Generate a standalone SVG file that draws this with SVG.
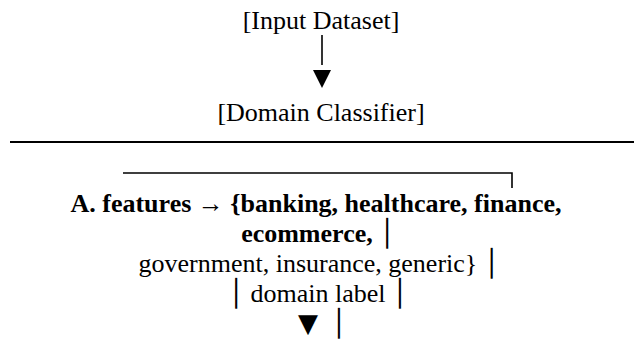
<svg xmlns="http://www.w3.org/2000/svg" width="636" height="339" viewBox="0 0 636 339">
  <rect width="636" height="339" fill="#fff"/>
  <g id="input-dataset">
    <text x="321" y="29" font-family="Liberation Serif" font-size="26" text-anchor="middle">[Input Dataset]</text>
  </g>
  <g id="domain-classifier">
    <text x="321" y="121" font-family="Liberation Serif" font-size="26" text-anchor="middle">[Domain Classifier]</text>
  </g>
  <g id="domain-features">
    <text x="316" y="212" font-family="Liberation Serif" font-size="26" font-weight="bold" text-anchor="middle">A. features → {banking, healthcare, finance,</text>
    <text x="318" y="242" font-family="Liberation Serif" font-size="26" text-anchor="middle"><tspan font-weight="bold">ecommerce, </tspan><tspan font-family="DejaVu Sans">│</tspan></text>
    <text x="319" y="272" font-family="Liberation Serif" font-size="26" text-anchor="middle">government, insurance, generic} <tspan font-family="DejaVu Sans">│</tspan></text>
    <text x="318" y="302" font-family="Liberation Serif" font-size="26" text-anchor="middle"><tspan font-family="DejaVu Sans">│</tspan> domain label <tspan font-family="DejaVu Sans">│</tspan></text>
    <text y="332" font-family="DejaVu Sans" font-size="26"><tspan x="298">▼</tspan><tspan x="331">│</tspan></text>
  </g>
  <g id="connectors" stroke="#000" fill="none">
    <line x1="322" y1="35" x2="322" y2="65" stroke-width="1.6"/>
    <polygon points="313,70 331,70 322,88" fill="#000" stroke="none"/>
    <line x1="10" y1="142" x2="634" y2="142" stroke-width="2.2"/>
    <path d="M123,173 H512 V188" stroke-width="1.6"/>
  </g>
</svg>
